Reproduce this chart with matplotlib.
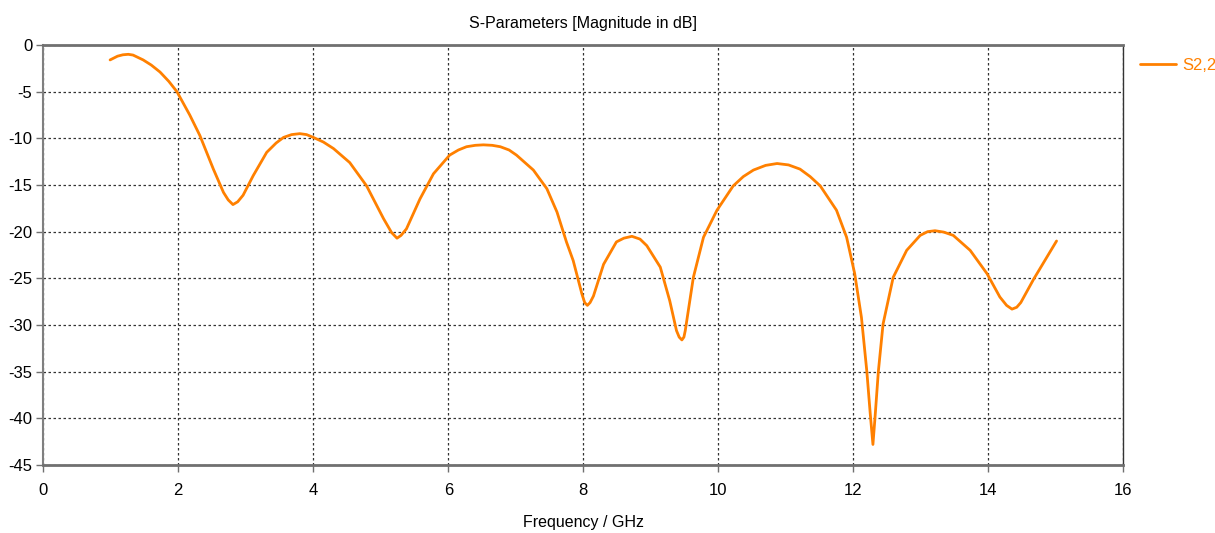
import matplotlib
matplotlib.use('Agg')
import matplotlib.pyplot as plt
from matplotlib import font_manager

# S2,2 magnitude in dB vs frequency in GHz
freq = [0.99, 1.10, 1.18, 1.26, 1.33, 1.48, 1.60, 1.73, 1.86, 1.98, 2.17, 2.32,
        2.52, 2.67, 2.74, 2.81, 2.88, 2.96, 3.11, 3.31, 3.45, 3.56, 3.68, 3.80,
        3.90, 4.00, 4.15, 4.30, 4.54, 4.79, 5.04, 5.16, 5.24, 5.30, 5.38,
        5.58, 5.78, 6.02, 6.15, 6.27, 6.40, 6.52, 6.65, 6.77, 6.90, 7.01, 7.26,
        7.46, 7.61, 7.75, 7.85, 7.98, 8.02, 8.06, 8.10, 8.15, 8.30, 8.49, 8.60,
        8.72, 8.84, 8.94, 9.14, 9.28, 9.38, 9.42, 9.46, 9.49, 9.51,
        9.63, 9.78, 9.98, 10.22, 10.37, 10.52, 10.70, 10.87, 11.04, 11.21, 11.36,
        11.51, 11.75, 11.90, 12.02, 12.12, 12.20, 12.25, 12.29, 12.32, 12.37,
        12.44, 12.59, 12.79, 12.99, 13.10, 13.21, 13.34, 13.48, 13.73, 13.98,
        14.17, 14.27, 14.35, 14.42, 14.48, 14.67, 15.01]
s22 = [-1.6, -1.2, -1.05, -1.0, -1.08, -1.6, -2.15, -2.9, -3.9, -5.0, -7.5, -9.7,
       -13.3, -15.8, -16.6, -17.1, -16.8, -16.1, -14.0, -11.5, -10.5, -9.9, -9.6, -9.5,
       -9.6, -9.9, -10.4, -11.1, -12.6, -15.1, -18.6, -20.1, -20.7, -20.4, -19.7,
       -16.5, -13.8, -11.8, -11.25, -10.9, -10.75, -10.7, -10.75, -10.9, -11.25, -11.8, -13.4,
       -15.4, -17.9, -21.1, -23.1, -26.7, -27.6, -27.9, -27.6, -26.9, -23.5, -21.1, -20.7,
       -20.5, -20.8, -21.5, -23.8, -27.4, -30.6, -31.3, -31.6, -31.3, -30.6,
       -24.9, -20.6, -17.7, -15.1, -14.1, -13.4, -12.9, -12.7, -12.85, -13.3, -14.1,
       -15.1, -17.7, -20.6, -24.5, -29.2, -35.0, -39.5, -42.8, -40.0, -35.0,
       -29.9, -24.9, -22.0, -20.4, -20.0, -19.9, -20.05, -20.4, -22.0, -24.5,
       -27.0, -27.9, -28.3, -28.1, -27.6, -25.1, -21.0]

xticks = list(range(0, 17, 2))
yticks = list(range(0, -50, -5))

names = {f.name for f in font_manager.fontManager.ttflist}
main_font = 'DejaVu Sans Condensed' if 'DejaVu Sans Condensed' in names else 'Liberation Sans'
plt.rcParams['font.family'] = [main_font, 'DejaVu Sans']

orange = '#ff8000'

fig = plt.figure(figsize=(12.15, 5.33), dpi=100)
ax = fig.add_axes([0.0356, 0.1276, 0.889, 0.788])

ax.plot(freq, s22, color=orange, lw=2.0, label='S2,2',
        solid_joinstyle='round', solid_capstyle='round')

ax.set_xlim(0, 16)
ax.set_ylim(-45, 0)
ax.set_xticks(xticks)
ax.set_yticks(yticks)
ax.set_xticklabels([str(t) for t in xticks])
ax.set_yticklabels([str(t) for t in yticks])

ax.grid(True, color='#333333', linestyle=(0, (2, 2)), lw=0.9)
ax.set_axisbelow(True)

for side in ['top', 'bottom']:
    ax.spines[side].set_color('#707070')
    ax.spines[side].set_linewidth(2.0)
ax.spines['left'].set_color('#808080')
ax.spines['left'].set_linewidth(1.5)
ax.spines['right'].set_color('#333333')
ax.spines['right'].set_linewidth(1.0)

ax.tick_params(direction='out', length=5, width=1, color='#707070',
               labelsize=12, pad=3)
ax.tick_params(axis='x', pad=8)

ax.set_title('S-Parameters [Magnitude in dB]', fontsize=11.5, pad=12)
ax.set_xlabel('Frequency / GHz', fontsize=11.5, labelpad=12)

ax.legend(loc='center left', bbox_to_anchor=(1.0155, 0.952), frameon=False,
          borderpad=0, borderaxespad=0, handlelength=2.15, handletextpad=0.35,
          labelcolor=orange, fontsize=12)

fig.savefig('out.png', dpi=100)
